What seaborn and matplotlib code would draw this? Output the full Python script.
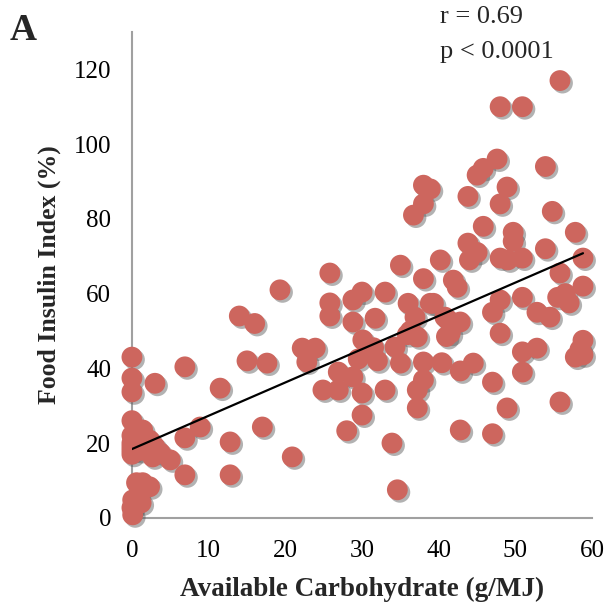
import numpy as np
import pandas as pd
import matplotlib
matplotlib.use("Agg")
import matplotlib.pyplot as plt
import matplotlib.patheffects as pe
import seaborn as sns

# available carbohydrate (g/MJ) and food insulin index (%)
carb = [
    0, 0, 0, 0, 0, 0, 0, 0, 0, 1.4, 2.3, 1, 3.7, 2.7, 3, 5, 1.4, 2.3, 1, 0.6,
    0.1, 0, 0.1, 1.2, 3,
    6.9, 6.9, 6.9, 8.9, 11.5, 12.8, 12.8, 14, 16, 15, 17.6, 17, 19.3,
    20.9, 22.2, 23.9, 22.8, 24.9, 26.9, 25.8, 25.8, 25.8, 26.9, 28.8, 28,
    28.8, 30, 28.8, 30, 30, 29.5, 30.1, 31.5,
    31.7, 33, 32, 33, 33.9, 34.6, 35, 34.3, 35, 36, 36.3, 37.2, 36.9, 36.7,
    38, 38.9, 38, 38, 38.9, 38, 37.2, 38, 37.2, 35.9,
    40.2, 41.9, 42.4, 44, 43.8, 45, 43.8, 45, 45.8, 47.6, 48, 48.9, 48,
    45.8, 48, 49, 40.8, 41.2, 42.8, 41.5, 41, 40.4, 42.8, 44.5, 42.8, 47,
    47, 48.9, 47, 48, 48, 39.3,
    50.9, 55.8, 53.9, 54.8, 49.7, 49.7, 57.8, 53.9, 50.9, 58.8, 55.8, 58.8,
    56.5, 55.5, 57, 50.9, 52.8, 54.5, 58.8, 58.4, 57.8, 50.9, 52.8, 50.9,
    55.8, 58.8,
]
insulin = [
    43, 37.4, 33.7, 26, 22, 20, 19, 18, 17, 23.5, 20.8, 18, 17.4, 16.3, 19,
    15.5, 9.4, 8.3, 7.5, 9.4, 4.8, 2.7, 0.8, 4, 36,
    40.4, 21.4, 11.5, 24.3, 34.7, 20.3, 11.5, 54, 52, 42, 41.4, 24.3, 61,
    16.3, 45.4, 45.4, 41.7, 34.2, 34.2, 65.5, 57.5, 54, 39, 37.7, 23.3,
    58.3, 60.4, 52.4, 33.4, 27.5, 42.5, 47.6, 45.5,
    53.4, 60.4, 42, 34.2, 20, 7.5, 67.6, 45.7, 41.4, 57.4, 50, 48.4, 53.7,
    81, 89, 88, 84, 64, 57.4, 41.7, 34.2, 36.9, 29.4, 49,
    69, 63.6, 61.7, 69, 73.5, 71, 86, 91.7, 93.5, 96, 110, 88.5, 84,
    78, 69.5, 69, 53.7, 53, 52.4, 49.4, 48.5, 41.5, 39.3, 41.4, 23.5, 22.5,
    36.3, 29.4, 55, 58.3, 49.4, 57.4,
    110, 117, 94, 82, 76.4, 74, 76.4, 72, 69.5, 69.5, 65.5, 62,
    60, 59, 57.5, 59, 55, 53.7, 47.5, 45, 43, 44.4, 45.4, 39,
    31, 43.6,
]

# regression line end points
fit_x = [0, 58.8]
fit_y = [18.4, 70.8]

df = pd.DataFrame({"carb": carb, "insulin": insulin})

sns.set_style("white")
plt.rcParams["font.family"] = ["Liberation Serif", "DejaVu Serif"]

fig = plt.figure(figsize=(6.08, 6.15), dpi=100)
ax = fig.add_axes([0.217, 0.158, 0.757, 0.79])

sns.scatterplot(data=df, x="carb", y="insulin", ax=ax, color="#cd665e",
                s=225, edgecolor="none", linewidth=0, clip_on=False, zorder=3)
ax.collections[0].set_path_effects([
    pe.SimplePatchShadow(offset=(1.8, -1.8), shadow_rgbFace="#555555", alpha=0.45),
    pe.Normal(),
])
ax.plot(fit_x, fit_y, color="black", lw=1.6, zorder=4)

ax.set_xlim(0, 60)
ax.set_ylim(0, 130)
ax.set_xticks(range(0, 61, 10))
ax.set_yticks(range(0, 121, 20))

for side in ["top", "right"]:
    ax.spines[side].set_visible(False)
for side in ["left", "bottom"]:
    ax.spines[side].set_color("#a0a0a0")
    ax.spines[side].set_linewidth(1.5)

ax.tick_params(axis="both", direction="in", length=6, width=1.5,
               color="#a0a0a0", labelsize=18, labelcolor="black")
ax.tick_params(axis="y", pad=15)
ax.tick_params(axis="x", pad=16)

ax.set_xlabel("Available Carbohydrate (g/MJ)", fontsize=19.5, fontweight="bold",
              labelpad=11)
ax.set_ylabel("Food Insulin Index (%)", fontsize=18.5, fontweight="bold",
              labelpad=9)

fig.text(0.016, 0.935, "A", fontsize=27, fontweight="bold", va="baseline")
fig.text(0.724, 0.963, "r = 0.69", fontsize=19, va="baseline")
fig.text(0.724, 0.905, "p < 0.0001", fontsize=19, va="baseline")

fig.savefig("out.png", dpi=100)
